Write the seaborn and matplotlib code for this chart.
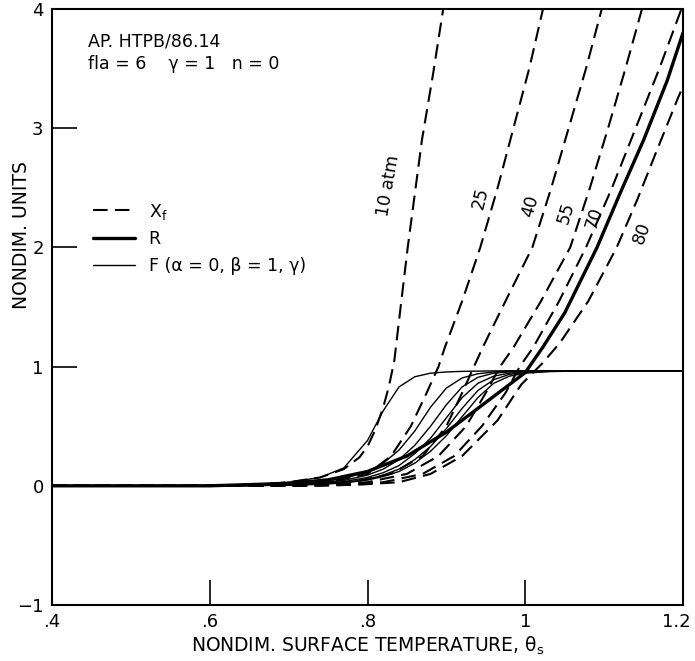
import numpy as np
import pandas as pd
import matplotlib
matplotlib.use("Agg")
import matplotlib.pyplot as plt
from matplotlib.lines import Line2D
from matplotlib.transforms import ScaledTranslation
import seaborn as sns

# ---------------- data ----------------
pressures = ["10", "25", "40", "55", "70", "80"]

# Dimensionless flame-standoff X_f (dashed), per pressure: theta, value
xf_theta = {
    "10": [0.40, 0.60, 0.66, 0.70, 0.74, 0.77, 0.79, 0.80, 0.81, 0.82, 0.827, 0.834, 0.842, 0.851, 0.860, 0.869, 0.883, 0.896],
    "25": [0.40, 0.65, 0.70, 0.75, 0.80, 0.83, 0.855, 0.875, 0.89, 0.898, 0.92, 0.943, 0.965, 0.985, 1.005, 1.0225],
    "40": [0.40, 0.68, 0.73, 0.78, 0.83, 0.87, 0.90, 0.92, 0.935, 0.946, 0.975, 1.009, 1.033, 1.055, 1.077, 1.097],
    "55": [0.40, 0.70, 0.75, 0.80, 0.85, 0.89, 0.925, 0.95, 0.968, 0.985, 1.02, 1.057, 1.082, 1.105, 1.127, 1.148],
    "70": [0.40, 0.72, 0.77, 0.82, 0.87, 0.91, 0.945, 0.975, 0.993, 1.010, 1.043, 1.077, 1.110, 1.140, 1.170, 1.198],
    "80": [0.40, 0.74, 0.79, 0.84, 0.88, 0.92, 0.965, 0.995, 1.022, 1.044, 1.08, 1.116, 1.142, 1.166, 1.194, 1.20],
}
xf_value = {
    "10": [0, 0, 0.01, 0.03, 0.07, 0.14, 0.24, 0.33, 0.47, 0.66, 0.83, 1.05, 1.5, 2.0, 2.45, 2.9, 3.45, 4.0],
    "25": [0, 0, 0.01, 0.03, 0.10, 0.25, 0.50, 0.78, 1.0, 1.16, 1.55, 2.0, 2.5, 3.0, 3.5, 4.0],
    "40": [0, 0, 0.01, 0.03, 0.10, 0.25, 0.50, 0.78, 1.0, 1.16, 1.55, 2.0, 2.5, 3.0, 3.5, 4.0],
    "55": [0, 0, 0.01, 0.03, 0.10, 0.25, 0.50, 0.78, 1.0, 1.16, 1.55, 2.0, 2.5, 3.0, 3.5, 4.0],
    "70": [0, 0, 0.01, 0.03, 0.10, 0.25, 0.50, 0.78, 1.0, 1.16, 1.55, 2.0, 2.5, 3.0, 3.5, 4.0],
    "80": [0, 0, 0.01, 0.03, 0.10, 0.25, 0.55, 0.85, 1.03, 1.20, 1.55, 2.0, 2.4, 2.8, 3.26, 3.35],
}

# R (thick solid)
r_theta = [0.40, 0.60, 0.70, 0.75, 0.80, 0.85, 0.90, 0.95, 1.00, 1.022, 1.05, 1.091, 1.12, 1.15, 1.18, 1.20]
r_value = [0, 0, 0.02, 0.05, 0.12, 0.25, 0.45, 0.70, 0.95, 1.16, 1.45, 2.0, 2.45, 2.9, 3.4, 3.8]

# F (thin solid), common theta grid
f_theta = [0.40, 0.60, 0.65, 0.70, 0.74, 0.77, 0.80, 0.82, 0.84, 0.86, 0.88, 0.90, 0.92, 0.94,
           0.96, 0.98, 1.00, 1.03, 1.07, 1.12, 1.20]
f_value = {
    "10": [0, 0.002, 0.01, 0.03, 0.07, 0.15, 0.38, 0.63, 0.83, 0.915, 0.945, 0.955, 0.96, 0.962, 0.964, 0.965, 0.965, 0.965, 0.965, 0.965, 0.965],
    "25": [0, 0.001, 0.005, 0.015, 0.035, 0.06, 0.12, 0.19, 0.30, 0.46, 0.66, 0.82, 0.905, 0.94, 0.955, 0.96, 0.963, 0.965, 0.965, 0.965, 0.965],
    "40": [0, 0, 0.003, 0.01, 0.025, 0.045, 0.09, 0.14, 0.22, 0.34, 0.50, 0.68, 0.83, 0.91, 0.945, 0.955, 0.96, 0.964, 0.965, 0.965, 0.965],
    "55": [0, 0, 0.002, 0.008, 0.02, 0.035, 0.07, 0.11, 0.17, 0.27, 0.40, 0.57, 0.74, 0.86, 0.92, 0.945, 0.955, 0.962, 0.965, 0.965, 0.965],
    "70": [0, 0, 0.002, 0.006, 0.015, 0.028, 0.055, 0.09, 0.14, 0.22, 0.33, 0.48, 0.65, 0.80, 0.89, 0.935, 0.952, 0.96, 0.964, 0.965, 0.965],
    "80": [0, 0, 0.001, 0.005, 0.012, 0.024, 0.048, 0.078, 0.12, 0.19, 0.29, 0.42, 0.58, 0.74, 0.86, 0.92, 0.945, 0.958, 0.963, 0.965, 0.965],
}

# curve labels (text, theta, value, rotation)
label_text = ["10 atm", "25", "40", "55", "70", "80"]
label_theta = [0.8265, 0.943, 1.007, 1.052, 1.087, 1.148]
label_value = [2.52, 2.41, 2.35, 2.29, 2.25, 2.12]
label_rot = [80, 76, 74, 73, 72, 70]

x_ticks = [0.4, 0.6, 0.8, 1.0, 1.2]
x_ticklabels = [".4", ".6", ".8", "1", "1.2"]
y_ticks = [-1, 0, 1, 2, 3, 4]

# ---------------- plotting ----------------
sns.set_theme(style="ticks")
plt.rcParams["font.family"] = ["DejaVu Sans"]
plt.rcParams["text.color"] = "black"
plt.rcParams["axes.labelcolor"] = "black"
plt.rcParams["mathtext.default"] = "regular"

fig = plt.figure(figsize=(6.95, 6.61), dpi=100)
ax = fig.add_axes([52 / 695, 1 - 605 / 661, 631 / 695, 596 / 661])

dash = (7, 3.5)
for p in pressures:
    df = pd.DataFrame({"theta": xf_theta[p], "value": xf_value[p]})
    sns.lineplot(data=df, x="theta", y="value", ax=ax, color="black", lw=1.5,
                 estimator=None, sort=False)
    ax.lines[-1].set_dashes(dash)

for p in pressures:
    df = pd.DataFrame({"theta": f_theta, "value": f_value[p]})
    sns.lineplot(data=df, x="theta", y="value", ax=ax, color="black", lw=1.0,
                 estimator=None, sort=False)

df_r = pd.DataFrame({"theta": r_theta, "value": r_value})
sns.lineplot(data=df_r, x="theta", y="value", ax=ax, color="black", lw=2.4,
             estimator=None, sort=False)

for t, x, y, r in zip(label_text, label_theta, label_value, label_rot):
    ax.text(x, y, t, rotation=r, ha="center", va="center", fontsize=12.5,
            color="black", rotation_mode="anchor")

ax.set_xlim(0.4, 1.2)
ax.set_ylim(-1, 4)
ax.set_xticks(x_ticks)
ax.set_xticklabels(x_ticklabels)
ax.set_yticks(y_ticks)
ax.tick_params(direction="in", length=18, width=1.2, labelsize=13, colors="black", pad=6)
last = ax.get_xticklabels()[-1]
last.set_transform(last.get_transform() + ScaledTranslation(-5 / 72, 0, fig.dpi_scale_trans))
for s in ax.spines.values():
    s.set_linewidth(1.5)
    s.set_color("black")

ax.set_xlabel("NONDIM. SURFACE TEMPERATURE, θ$_s$", fontsize=13.5, color="black")
ax.set_ylabel("NONDIM. UNITS", fontsize=13.5, color="black")
ax.xaxis.set_label_coords(0.50, -0.05)
ax.yaxis.set_label_coords(-0.033, 0.62)

ax.text(0.057, 0.945, "AP. HTPB/86.14", transform=ax.transAxes, fontsize=12.5, va="center")
ax.text(0.057, 0.908, "fla = 6    γ = 1   n = 0", transform=ax.transAxes, fontsize=12.5, va="center")

handles = [
    Line2D([], [], color="black", lw=1.5, dashes=dash),
    Line2D([], [], color="black", lw=2.4),
    Line2D([], [], color="black", lw=1.0),
]
labels = ["X$_f$", "R", "F (α = 0, β = 1, γ)"]
ax.legend(handles, labels, loc="upper left", bbox_to_anchor=(0.065, 0.677),
          frameon=False, fontsize=12.5, handlelength=2.4, handletextpad=0.8,
          labelspacing=0.5, borderpad=0, borderaxespad=0)

fig.savefig("out.png", dpi=100)
